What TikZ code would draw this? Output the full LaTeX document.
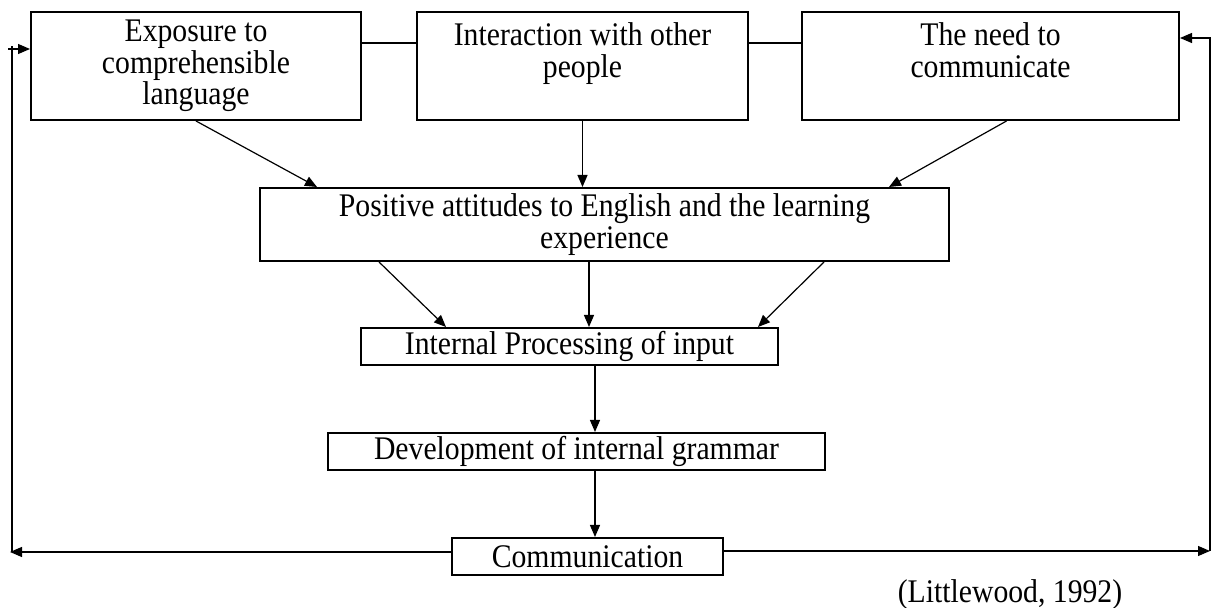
\documentclass[tikz,border=0pt]{standalone}
\usepackage{fontspec}
\setmainfont{Liberation Serif}[FakeStretch=0.9]
\usetikzlibrary{arrows.meta,positioning,calc}
\tikzstyle{topbox} = [rectangle, minimum height=54pt, align=center, inner sep=0pt, draw=black, line width=1pt]
\tikzstyle{flatbox} = [rectangle, minimum height=18.5pt, align=center, inner sep=0pt, draw=black, line width=1pt]
\tikzstyle{link} = [line width=0.7pt]
\tikzstyle{arrow} = [line width=0.6pt,-{Triangle[length=6pt,width=5pt]}]

\begin{document}
\begin{tikzpicture}[x=0.5pt, y=-0.5pt, font=\fontsize{16.5pt}{15.8pt}\selectfont]
\useasboundingbox (0,0) rectangle (1212,608);
% three sources
\node (exposure) [topbox, minimum width=165pt] at (196,66) {Exposure to\\comprehensible\\language};
\node (interact) [topbox, minimum width=165.5pt] at (582.5,66) {Interaction with other\\people\\\mbox{}};
\node (need) [topbox, minimum width=188.5pt] at (990.5,66) {The need to\\communicate\\\mbox{}};
% middle chain
\node (attitude) [topbox, minimum width=344.5pt, minimum height=36.5pt] at (604.5,224.5) {Positive attitudes to English and the learning\\experience};
\node (process) [flatbox, minimum width=208.5pt] at (569.5,346.5) {Internal Processing of input};
\node (grammar) [flatbox, minimum width=248.5pt] at (576.5,451.5) {Development of internal grammar};
\node (comm) [flatbox, minimum width=135.5pt] at (587.5,556.5) {Communication};
\node (source) [anchor=base] at (1010,603) {(Littlewood, 1992)};

\coordinate (lowleft) at (10,552);
\coordinate (cornerleft) at (12,552);
\coordinate (upleft) at (12,46);
\coordinate (tickleft) at (8,49);
\coordinate (lowright) at (1210,551);

\draw [link] ([yshift=11.5pt]exposure.east) -- ([yshift=11.5pt]interact.west);
\draw [link] ([yshift=11.5pt]interact.east) -- ([yshift=11.5pt]need.west);

\draw [arrow] (exposure.south) -- ([xshift=29pt]attitude.north west);
\draw [arrow] (interact.south) -- (interact.south |- attitude.north);
\draw [arrow] ([xshift=8pt]need.south) -- ([xshift=-30.5pt]attitude.north east);

\draw [arrow] ([xshift=60pt]attitude.south west) -- ([xshift=43pt]process.north west);
\draw [arrow] ([xshift=-7.75pt]attitude.south) -- ([xshift=9.75pt]process.north);
\draw [arrow] ([xshift=-63pt]attitude.south east) -- ([xshift=-10.5pt]process.north east);

\draw [arrow] ([xshift=12.75pt]process.south) -- ([xshift=9.25pt]grammar.north);
\draw [arrow] ([xshift=9.25pt]grammar.south) -- ([xshift=3.75pt]comm.north);

% feedback loop
\draw [arrow] ([yshift=2.25pt]comm.west) -- (lowleft);
\draw [link] (cornerleft) -- (upleft);
\draw [arrow] (tickleft) -- (tickleft -| exposure.west);
\draw [arrow] ([yshift=2.75pt]comm.east) -- (lowright);
\draw [arrow] (lowright) |- ([yshift=14pt]need.east);
\end{tikzpicture}
\end{document}
